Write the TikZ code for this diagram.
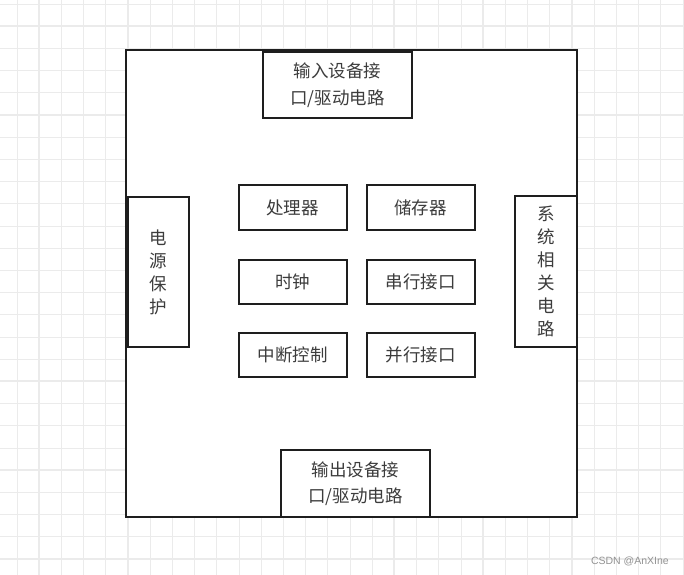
\documentclass[tikz,border=0pt]{standalone}
\usepackage{fontspec}
\newfontfamily\cjk{Noto Sans CJK SC}
\setmainfont{Liberation Sans}
\definecolor{gridc}{HTML}{EBEBEB}
\definecolor{boxc}{HTML}{1E1E1E}
\definecolor{txtc}{HTML}{3C3C3C}
\tikzset{
  blk/.style={draw=boxc, line width=2bp, fill=white, inner sep=0pt, text=txtc,
     font=\cjk\fontsize{17.5bp}{26.5bp}\selectfont, align=center},
}
\begin{document}
\begin{tikzpicture}[x=1bp,y=-1bp]
\useasboundingbox (0,0) rectangle (684,575);
\fill[white] (0,0) rectangle (684,575);
% grid
\foreach \i in {0,...,30} {
  \pgfmathsetmacro{\xx}{17+22.2*\i}
  \pgfmathsetmacro{\yy}{4+22.2*\i}
  \draw[gridc, line width=0.8bp] (\xx,0) -- (\xx,575);
  \draw[gridc, line width=0.8bp] (0,\yy) -- (684,\yy);
}
\foreach \i in {0,...,7} {
  \pgfmathsetmacro{\xx}{39+88.8*\i}
  \pgfmathsetmacro{\yy}{26+88.8*\i}
  \draw[gridc, line width=1.5bp] (\xx,0) -- (\xx,575);
  \draw[gridc, line width=1.5bp] (0,\yy) -- (684,\yy);
}
% outer box
\node[blk, minimum width=451bp, minimum height=467bp] (outer) at (351.5,283.5) {};
% top / bottom
\node[blk, minimum width=149bp, minimum height=66bp] (inp) at (337.5,85) {输入设备接\\口/驱动电路};
\node[blk, minimum width=149bp, minimum height=67bp] (outp) at (355.5,483.5) {输出设备接\\口/驱动电路};
% sides
\node[blk, minimum width=61bp, minimum height=150bp, font=\cjk\fontsize{17.5bp}{23bp}\selectfont] (pwr) at (158.5,272) {电\\源\\保\\护};
\node[blk, minimum width=62bp, minimum height=151bp, font=\cjk\fontsize{17.5bp}{23bp}\selectfont] (sys) at (546,271.5) {系\\统\\相\\关\\电\\路};
% inner
\tikzset{inb/.style={blk, minimum width=108bp, minimum height=44bp}}
\node[inb] (cpu) at (292.5,207.5) {处理器};
\node[inb] (mem) at (420.5,207.5) {储存器};
\node[inb] (clk) at (292.5,281.5) {时钟};
\node[inb] (ser) at (420.5,281.5) {串行接口};
\node[inb] (irq) at (292.5,354.5) {中断控制};
\node[inb] (par) at (420.5,354.5) {并行接口};
% watermark
\node[text=gray!85, font=\fontsize{10.5bp}{12bp}\selectfont, anchor=east, inner sep=0pt] (wm) at (669,561) {CSDN @AnXIne};
\end{tikzpicture}
\end{document}
